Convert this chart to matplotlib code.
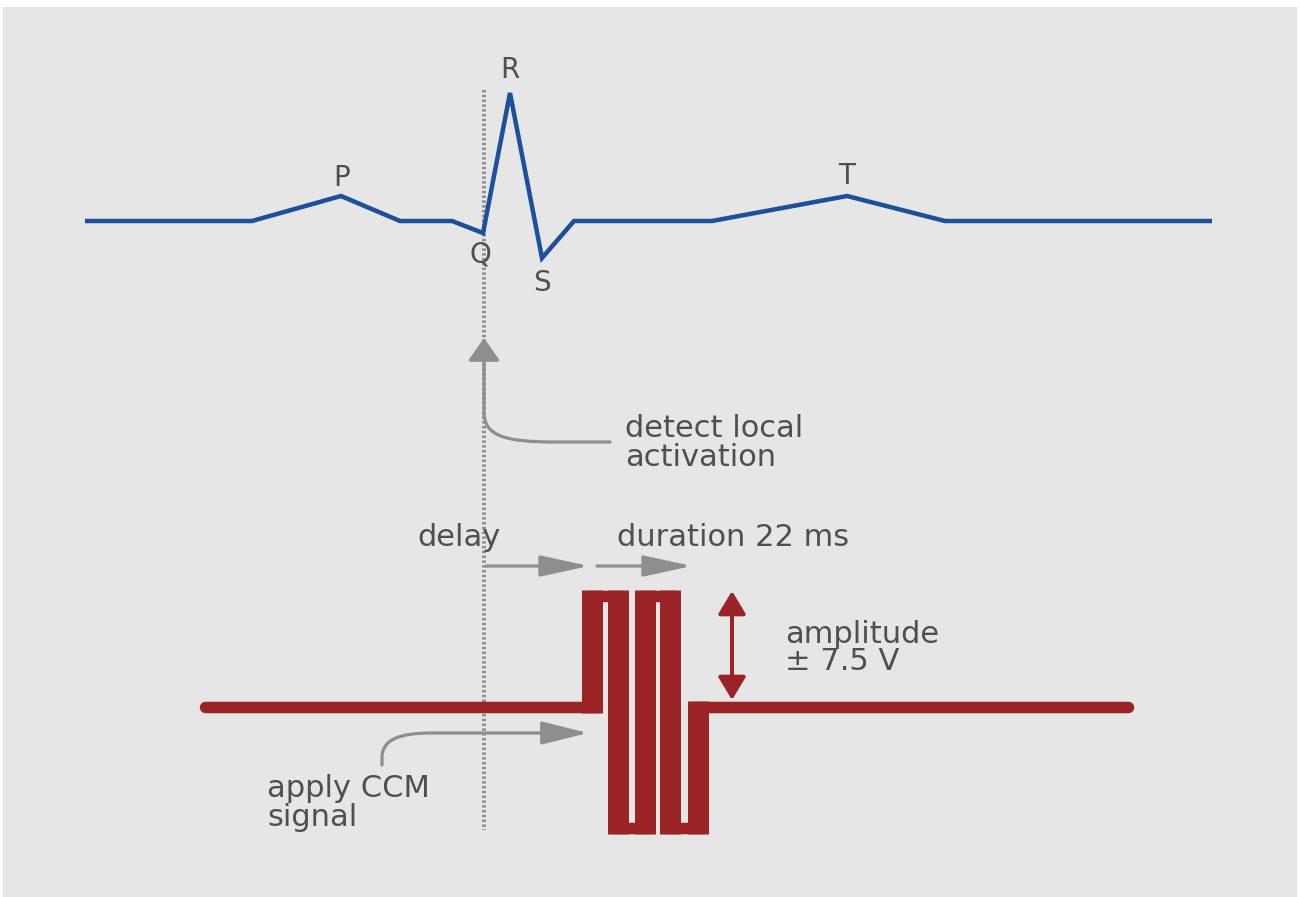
import matplotlib
matplotlib.use("Agg")
import matplotlib.pyplot as plt
from matplotlib.patches import Rectangle, FancyArrowPatch
from matplotlib.path import Path

# ---------------- data (diagram units = pixels of the reference) ----------------
ecg_x = [85, 252, 341, 400, 452, 483, 510, 542, 574, 712, 847, 945, 1212]
ecg_y = [221, 221, 196, 221, 221, 233, 93, 258, 221, 221, 196, 221, 221]

wave_labels = ["P", "R", "Q", "S", "T"]
wave_label_x = [342, 510, 480, 542, 847]
wave_label_y = [178, 70, 254, 283, 176]

pulse_x = [205, 592, 592, 618, 618, 645, 645, 670, 670, 698, 698, 1128]
pulse_y = [707, 707, 596, 596, 828, 828, 596, 596, 828, 828, 707, 707]

marker_x = 484
marker_y = [90, 830]

detect_text = "detect local\nactivation"
delay_text = "delay"
duration_text = "duration 22 ms"
amplitude_text = "amplitude\n± 7.5 V"
apply_text = "apply CCM\nsignal"

# ---------------- styling ----------------
BLUE = "#1d4f9a"
RED = "#992325"
GRAY = "#8e8e8e"
TEXT = "#4f4f4f"
PANEL = "#e6e6e6"

plt.rcParams["font.family"] = ["DejaVu Sans"]

W, H = 1300, 897
fig = plt.figure(figsize=(W / 100, H / 100), dpi=100)
fig.patch.set_facecolor("white")
ax = fig.add_axes([0, 0, 1, 1])
ax.set_xlim(0, W)
ax.set_ylim(H, 0)
ax.axis("off")

ax.add_patch(Rectangle((3, 7), 1294, 895, facecolor=PANEL, edgecolor="none", zorder=0))

px = 72 / 100  # points per pixel

# vertical dotted marker line
ax.plot([marker_x, marker_x], marker_y, color="#8f8f8f", lw=4 * px,
        linestyle=(0, (0.6, 0.6)), zorder=1)

# ECG trace
ax.plot(ecg_x, ecg_y, color=BLUE, lw=4.5 * px, solid_joinstyle="miter",
        solid_capstyle="butt", zorder=3)
for lab, x, y in zip(wave_labels, wave_label_x, wave_label_y):
    ax.text(x, y, lab, fontsize=20, color=TEXT, ha="center", va="center", zorder=4)

# CCM pulse trace: horizontal strokes thinner, vertical strokes thicker
ax.plot(pulse_x, pulse_y, color=RED, lw=11.5 * px, solid_capstyle="round",
        solid_joinstyle="miter", zorder=3)
half_h = 5.75
for i in range(len(pulse_x) - 1):
    if pulse_x[i] == pulse_x[i + 1]:
        y0, y1 = sorted([pulse_y[i], pulse_y[i + 1]])
        ax.plot([pulse_x[i], pulse_x[i]], [y0 - half_h, y1 + half_h], color=RED,
                lw=21 * px, solid_capstyle="butt", zorder=3)

# amplitude double arrow
ax.add_patch(FancyArrowPatch((732, 700), (732, 591),
                             arrowstyle="<|-|>,head_length=1.0,head_width=0.6",
                             mutation_scale=14, color=RED, lw=4 * px,
                             shrinkA=0, shrinkB=0, zorder=3))

# detect-local-activation arrow (curved)
detect_path = Path([(610, 442), (555, 442), (505, 442), (484, 436), (484, 412), (484, 338)],
                   [Path.MOVETO, Path.LINETO, Path.CURVE4, Path.CURVE4, Path.CURVE4, Path.LINETO])
ax.add_patch(FancyArrowPatch(path=detect_path,
                             arrowstyle="-|>,head_length=1.0,head_width=0.7",
                             mutation_scale=14, color=GRAY, lw=3.2 * px, zorder=2))

# apply-CCM arrow (curved)
apply_path = Path([(382, 765), (382, 758), (382, 740), (398, 733), (432, 733), (588, 733)],
                  [Path.MOVETO, Path.LINETO, Path.CURVE4, Path.CURVE4, Path.CURVE4, Path.LINETO])
ax.add_patch(FancyArrowPatch(path=apply_path,
                             arrowstyle="-|>,head_length=2.2,head_width=0.55",
                             mutation_scale=13, color=GRAY, lw=3.2 * px, zorder=2))

# delay / duration arrows
for xs, xe in [(486, 589), (597, 692)]:
    ax.add_patch(FancyArrowPatch((xs, 566), (xe, 566),
                                 arrowstyle="-|>,head_length=2.3,head_width=0.5",
                                 mutation_scale=13, color=GRAY, lw=3.2 * px,
                                 shrinkA=0, shrinkB=0, zorder=2))

# annotation texts
fs = 22
ax.text(625, 443, detect_text, fontsize=fs, color=TEXT, ha="left", va="center",
        linespacing=1.0, zorder=4)
ax.text(417, 538, delay_text, fontsize=fs, color=TEXT, ha="left", va="center", zorder=4)
ax.text(617, 538, duration_text, fontsize=fs, color=TEXT, ha="left", va="center", zorder=4)
ax.text(785, 648, amplitude_text, fontsize=fs, color=TEXT, ha="left", va="center",
        linespacing=0.95, zorder=4)
ax.text(267, 803, apply_text, fontsize=fs, color=TEXT, ha="left", va="center",
        linespacing=1.0, zorder=4)

fig.savefig("out.png", dpi=100, facecolor=fig.get_facecolor())
